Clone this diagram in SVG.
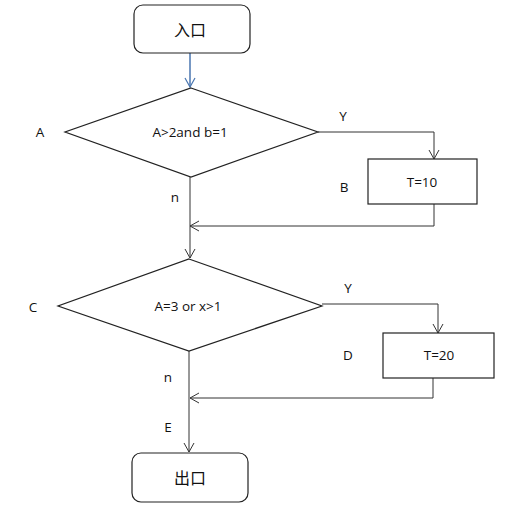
<svg xmlns="http://www.w3.org/2000/svg" width="511" height="513" viewBox="0 0 511 513">
<defs>
<marker id="arr" markerWidth="12" markerHeight="12" refX="10" refY="6" orient="auto" markerUnits="userSpaceOnUse">
<path d="M1,1 L10,6 L1,11" fill="none" stroke="#333" stroke-width="1"/>
</marker>
<marker id="arrb" markerWidth="12" markerHeight="12" refX="10" refY="6" orient="auto" markerUnits="userSpaceOnUse">
<path d="M1,1 L10,6 L1,11" fill="none" stroke="#4a76b0" stroke-width="1.2"/>
</marker>
</defs>
<style>
.shape{fill:#fff;stroke:#222;stroke-width:1.2}
.ln{fill:none;stroke:#333;stroke-width:1}
.t{font-family:"Open Sans","Liberation Sans",sans-serif;font-size:13.5px;fill:#111;text-anchor:middle;dominant-baseline:central}
.c{font-family:"Noto Sans CJK SC",sans-serif;font-size:16px;fill:#111;text-anchor:middle;dominant-baseline:central}
</style>
<rect width="511" height="513" fill="#fff"/>
<g id="connectors">
<line x1="190" y1="53" x2="190" y2="87" stroke="#4a76b0" stroke-width="1.5" marker-end="url(#arrb)"/>
<polyline class="ln" points="318,132 434,132 434,159" marker-end="url(#arr)"/>
<polyline class="ln" points="434,204 434,226 190,226" marker-end="url(#arr)"/>
<line class="ln" x1="190" y1="177" x2="190" y2="258" marker-end="url(#arr)"/>
<polyline class="ln" points="322,304 438,304 438,333" marker-end="url(#arr)"/>
<polyline class="ln" points="433,378 433,398 190,398" marker-end="url(#arr)"/>
<line class="ln" x1="189" y1="351" x2="189" y2="452" marker-end="url(#arr)"/>
</g>
<g id="entry">
<rect class="shape" x="134" y="5" width="116" height="48" rx="9"/>
<text class="c" x="190" y="29">入口</text>
</g>
<g id="decision1">
<polygon class="shape" points="191,88 318,132 191,177 65,132"/>
<text class="t" x="190" y="132">A&gt;2and b=1</text>
</g>
<g id="boxB">
<rect class="shape" x="368" y="159" width="109" height="45"/>
<text class="t" x="422" y="182">T=10</text>
</g>
<g id="decision2">
<polygon class="shape" points="189,259 322,306 189,351 58,306"/>
<text class="t" x="188" y="306">A=3 or x&gt;1</text>
</g>
<g id="boxD">
<rect class="shape" x="383" y="333" width="111" height="45"/>
<text class="t" x="439" y="355">T=20</text>
</g>
<g id="exit">
<rect class="shape" x="132" y="453" width="116" height="49" rx="9"/>
<text class="c" x="190" y="477">出口</text>
</g>
<g id="labels">
<text class="t" x="40" y="132">A</text>
<text class="t" x="343" y="116">Y</text>
<text class="t" x="344" y="187">B</text>
<text class="t" x="175" y="197">n</text>
<text class="t" x="33" y="307">C</text>
<text class="t" x="348" y="288">Y</text>
<text class="t" x="348" y="355">D</text>
<text class="t" x="168" y="377">n</text>
<text class="t" x="168" y="427">E</text>
</g>
</svg>
